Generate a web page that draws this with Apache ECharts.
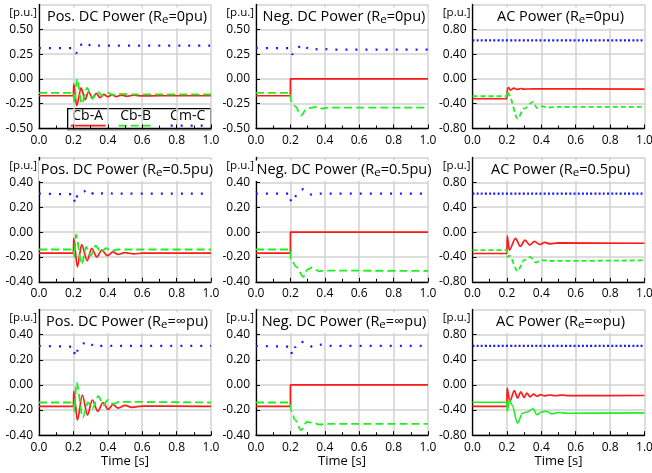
<!DOCTYPE html>
<html>
<head>
<meta charset="utf-8">
<script src="https://cdn.jsdelivr.net/npm/echarts@6/dist/echarts.min.js"></script>
<style>
  html, body { margin: 0; padding: 0; background: #fff; }
  #chart { width: 652px; height: 473px; }
</style>
</head>
<body>
<div id="chart"></div>
<script>
// Converter powers after the pole fault at t = 0.2 s, three earthing resistances.
const seriesNames = ['Cb-A', 'Cb-B', 'Cm-C'];
const powerKinds = ['Pos. DC Power', 'Neg. DC Power', 'AC Power'];
const reValues = ['0', '0.5', '∞'];
const timeTicks = { min: 0, max: 1, interval: 0.2 };
const yRangesDcTop = { min: -0.5, max: 0.75, interval: 0.25 };
const yRangesDc = { min: -0.4, max: 0.6, interval: 0.2 };
const yRangesAc = { min: -0.8, max: 1.2, interval: 0.4 };

// ---- Re = 0 pu ----
const posRe0CbA = [[0,-0.17],[0.2,-0.17],[0.202,-0.05],[0.219,-0.27],[0.245,-0.09],[0.268,-0.21],[0.288,-0.13],[0.311,-0.19],[0.333,-0.145],[0.355,-0.19],[0.377,-0.155],[0.40,-0.18],[0.425,-0.16],[0.45,-0.178],[0.48,-0.163],[0.51,-0.175],[0.55,-0.165],[0.6,-0.172],[0.7,-0.17],[1,-0.17]];
const posRe0CbB = [[0,-0.14],[0.2,-0.14],[0.205,-0.24],[0.222,0.0],[0.248,-0.25],[0.28,-0.09],[0.31,-0.2],[0.34,-0.13],[0.37,-0.17],[0.40,-0.14],[0.43,-0.16],[0.47,-0.15],[0.55,-0.157],[1,-0.155]];
const posRe0CmC = [[0,0.31],[0.2,0.31],[0.205,0.27],[0.215,0.26],[0.235,0.34],[0.255,0.35],[0.275,0.37],[0.305,0.33],[0.35,0.335],[1,0.335]];

const negRe0CbA = [[0,-0.17],[0.2,-0.17],[0.2,0],[1,0]];
const negRe0CbB = [[0,-0.14],[0.2,-0.14],[0.202,-0.22],[0.23,-0.28],[0.262,-0.37],[0.295,-0.3],[0.325,-0.29],[0.36,-0.28],[0.385,-0.3],[0.42,-0.29],[1,-0.29]];
const negRe0CmC = [[0,0.31],[0.2,0.31],[0.2,0.28],[0.21,0.25],[0.24,0.31],[0.26,0.33],[0.28,0.345],[0.3,0.31],[0.32,0.29],[0.36,0.3],[0.4,0.3],[0.45,0.295],[1,0.295]];

const acRe0CbA = [[0,-0.32],[0.2,-0.32],[0.203,-0.15],[0.21,-0.14],[0.22,-0.18],[0.24,-0.15],[0.26,-0.17],[0.28,-0.155],[0.3,-0.165],[0.35,-0.16],[1,-0.165]];
const acRe0CbB = [[0,-0.28],[0.2,-0.28],[0.203,-0.2],[0.212,-0.26],[0.262,-0.64],[0.30,-0.48],[0.352,-0.37],[0.375,-0.47],[0.40,-0.44],[0.44,-0.46],[0.5,-0.45],[1,-0.45]];
const acRe0CmC = [[0,0.62],[1,0.62]];

// ---- Re = 0.5 pu ----
const posRe05CbA = [[0,-0.17],[0.2,-0.17],[0.202,-0.05],[0.223,-0.28],[0.248,-0.1],[0.28,-0.23],[0.306,-0.13],[0.336,-0.2],[0.365,-0.145],[0.398,-0.19],[0.43,-0.16],[0.46,-0.18],[0.5,-0.165],[0.55,-0.175],[0.6,-0.17],[1,-0.17]];
const posRe05CbB = [[0,-0.14],[0.2,-0.14],[0.205,-0.2],[0.215,-0.02],[0.248,-0.26],[0.275,-0.12],[0.3,-0.19],[0.33,-0.11],[0.36,-0.16],[0.39,-0.13],[0.42,-0.15],[0.46,-0.14],[1,-0.14]];
const posRe05CmC = [[0,0.31],[0.2,0.305],[0.21,0.23],[0.225,0.3],[0.26,0.325],[0.28,0.345],[0.3,0.32],[0.325,0.3],[0.36,0.31],[0.39,0.32],[0.43,0.31],[1,0.31]];

const negRe05CbA = [[0,-0.17],[0.2,-0.17],[0.2,0],[1,0]];
const negRe05CbB = [[0,-0.14],[0.2,-0.14],[0.202,-0.22],[0.235,-0.28],[0.275,-0.36],[0.3,-0.3],[0.325,-0.285],[0.365,-0.315],[0.4,-0.31],[1,-0.313]];
const negRe05CmC = [[0,0.31],[0.2,0.31],[0.203,0.24],[0.22,0.27],[0.245,0.32],[0.275,0.345],[0.3,0.32],[0.325,0.3],[0.37,0.31],[1,0.31]];

const acRe05CbA = [[0,-0.345],[0.2,-0.345],[0.202,-0.06],[0.214,-0.29],[0.25,-0.1],[0.278,-0.23],[0.305,-0.13],[0.333,-0.21],[0.36,-0.15],[0.39,-0.2],[0.42,-0.165],[0.45,-0.19],[0.5,-0.175],[1,-0.18]];
const acRe05CbB = [[0,-0.29],[0.2,-0.29],[0.203,-0.4],[0.215,-0.38],[0.262,-0.63],[0.3,-0.45],[0.335,-0.4],[0.37,-0.49],[0.4,-0.45],[0.45,-0.465],[1,-0.455]];
const acRe05CmC = [[0,0.62],[1,0.62]];

// ---- Re = ∞ pu ----
const posReInfCbA = [[0,-0.17],[0.2,-0.17],[0.202,-0.05],[0.223,-0.28],[0.252,-0.08],[0.282,-0.24],[0.31,-0.12],[0.342,-0.21],[0.372,-0.14],[0.402,-0.195],[0.43,-0.155],[0.46,-0.185],[0.5,-0.163],[0.54,-0.178],[0.6,-0.168],[1,-0.17]];
const posReInfCbB = [[0,-0.14],[0.2,-0.14],[0.205,-0.21],[0.218,0.02],[0.255,-0.26],[0.285,-0.14],[0.31,-0.19],[0.345,-0.09],[0.375,-0.16],[0.4,-0.12],[0.43,-0.15],[0.47,-0.135],[1,-0.14]];
const posReInfCmC = [[0,0.31],[0.2,0.305],[0.203,0.28],[0.21,0.225],[0.23,0.29],[0.258,0.33],[0.283,0.345],[0.305,0.32],[0.326,0.3],[0.384,0.315],[0.43,0.31],[1,0.31]];

const negReInfCbA = [[0,-0.17],[0.2,-0.17],[0.2,0],[1,0]];
const negReInfCbB = [[0,-0.14],[0.2,-0.14],[0.202,-0.2],[0.228,-0.28],[0.262,-0.36],[0.295,-0.295],[0.33,-0.3],[0.37,-0.315],[0.42,-0.31],[1,-0.31]];
const negReInfCmC = [[0,0.31],[0.2,0.305],[0.203,0.28],[0.21,0.24],[0.228,0.3],[0.256,0.345],[0.28,0.34],[0.305,0.32],[0.33,0.3],[0.38,0.32],[0.43,0.31],[1,0.31]];

const acReInfCbA = [[0,-0.34],[0.2,-0.34],[0.201,-0.05],[0.217,-0.265],[0.243,-0.09],[0.262,-0.21],[0.281,-0.11],[0.3,-0.2],[0.316,-0.13],[0.335,-0.19],[0.355,-0.145],[0.375,-0.18],[0.395,-0.155],[0.42,-0.175],[0.45,-0.16],[0.48,-0.172],[0.52,-0.163],[0.56,-0.17],[1,-0.168]];
const acReInfCbB = [[0,-0.275],[0.2,-0.275],[0.202,-0.42],[0.215,-0.24],[0.23,-0.32],[0.262,-0.61],[0.29,-0.45],[0.32,-0.43],[0.352,-0.38],[0.375,-0.475],[0.4,-0.43],[0.43,-0.42],[0.46,-0.46],[0.5,-0.44],[0.55,-0.45],[1,-0.445]];
const acReInfCmC = [[0,0.62],[1,0.62]];

// panels[row][col] = [Cb-A, Cb-B, Cm-C]
const panels = [
  [[posRe0CbA, posRe0CbB, posRe0CmC], [negRe0CbA, negRe0CbB, negRe0CmC], [acRe0CbA, acRe0CbB, acRe0CmC]],
  [[posRe05CbA, posRe05CbB, posRe05CmC], [negRe05CbA, negRe05CbB, negRe05CmC], [acRe05CbA, acRe05CbB, acRe05CmC]],
  [[posReInfCbA, posReInfCbB, posReInfCmC], [negReInfCbA, negReInfCbB, negReInfCmC], [acReInfCbA, acReInfCbB, acReInfCmC]]
];

// ---- layout ----
const FONT = 'Open Sans';
const colLeft = [39, 256, 472.5];
const colWidth = 172;
const rowTop = [4.5, 157.5, 309.5];
const rowHeight = [124, 124.3, 125.7];

const RED = '#ff1a1a', GREEN = '#1ef01e', BLUE = '#1a1aff';

function lineStyleFor(k, col, row) {
  if (k === 0) return { color: RED, width: 1.7 };
  if (k === 1) {
    if (col === 2 && row === 2) return { color: GREEN, width: 1.6 };
    return { color: GREEN, width: 1.8, type: col === 2 ? [5, 3] : [8, 4] };
  }
  return { color: BLUE, width: 2.2, type: col === 2 ? [2, 2.2] : [2, 8] };
}

const grids = [], xAxes = [], yAxes = [], series = [], titles = [];
for (let r = 0; r < 3; r++) {
  for (let c = 0; c < 3; c++) {
    const idx = r * 3 + c;
    const yr = c === 2 ? yRangesAc : (r === 0 ? yRangesDcTop : yRangesDc);
    grids.push({ left: colLeft[c], top: rowTop[r], width: colWidth, height: rowHeight[r],
      containLabel: false, outerBoundsMode: 'none' });
    xAxes.push({
      type: 'value', gridIndex: idx, min: timeTicks.min, max: timeTicks.max, interval: timeTicks.interval,
      name: r === 2 ? 'Time [s]' : '', nameLocation: 'middle', nameGap: 20,
      nameTextStyle: { fontFamily: FONT, fontSize: 13, color: '#000' },
      axisLine: { onZero: false, lineStyle: { color: '#000', width: 1.3 } },
      axisTick: { show: true, inside: true, length: 4, lineStyle: { color: '#000', width: 1 } },
      minorTick: { show: true, splitNumber: 2, length: 3, lineStyle: { color: '#000', width: 1 } },
      splitLine: { show: true, lineStyle: { color: '#d2d2d2', width: 1.5 } },
      axisLabel: { fontFamily: FONT, fontSize: 12, color: '#000', margin: 6,
        formatter: v => v.toFixed(1) }
    });
    yAxes.push({
      type: 'value', gridIndex: idx, min: yr.min, max: yr.max, interval: yr.interval,
      name: '[p.u.]', nameLocation: 'end', nameGap: -8.5,
      nameTextStyle: { fontFamily: FONT, fontSize: 11.5, color: '#000', align: 'right',
        verticalAlign: 'middle', padding: [0, 2, 0, 0] },
      axisLine: { onZero: false, lineStyle: { color: '#000', width: 1.3 } },
      axisTick: { show: true, inside: true, length: 4, lineStyle: { color: '#000', width: 1 } },
      splitLine: { show: true, lineStyle: { color: '#d2d2d2', width: 1.5 } },
      axisLabel: { fontFamily: FONT, fontSize: 12, color: '#000', margin: 6, showMaxLabel: false,
        formatter: v => v.toFixed(2) }
    });
    titles.push({
      text: '{t|' + powerKinds[c] + ' (R}{s|e}{t|=' + reValues[r] + 'pu)}',
      left: colLeft[c] + colWidth / 2, top: rowTop[r] + 1.5, textAlign: 'center',
      backgroundColor: '#fff', padding: [2, 2, 2, 2],
      textStyle: { fontWeight: 'normal', rich: {
        t: { fontFamily: FONT, fontSize: 14.5, fontWeight: 'normal', color: '#000', lineHeight: 18 },
        s: { fontFamily: FONT, fontSize: 11.5, fontWeight: 'normal', color: '#000', lineHeight: 10, verticalAlign: 'bottom' }
      } }
    });
    panels[r][c].forEach((data, k) => {
      const isStep = k === 0 && c === 1;
      series.push({
        type: 'line', name: seriesNames[k], xAxisIndex: idx, yAxisIndex: idx, data,
        symbol: 'none', showSymbol: false, animation: false,
        smooth: isStep ? false : 0.3, smoothMonotone: 'x',
        lineStyle: lineStyleFor(k, c, r), z: 2 + k
      });
    });
  }
}

// key box inside the first panel
const keyItems = seriesNames.map((name, k) => {
  const ls = lineStyleFor(k, 0, 0);
  const x0 = [3, 51, 103][k];
  return [
    { type: 'text', x: x0 + 17, y: 7.5, style: { text: name, font: '14px ' + FONT, fill: '#000',
      align: 'center', verticalAlign: 'middle' } },
    { type: 'line', shape: { x1: x0, y1: 17, x2: x0 + 35, y2: 17 },
      style: { stroke: ls.color, lineWidth: ls.width, lineDash: Array.isArray(ls.type) ? ls.type : null } }
  ];
}).flat();

const chart = echarts.init(document.getElementById('chart'), null, { renderer: 'canvas' });
chart.setOption({
  backgroundColor: '#fff',
  animation: false,
  title: titles,
  grid: grids,
  xAxis: xAxes,
  yAxis: yAxes,
  series,
  graphic: [{
    type: 'group', left: 67, top: 108, z: 100,
    children: [
      { type: 'rect', shape: { x: 0, y: 0, width: 143, height: 21 },
        style: { fill: '#fff', stroke: '#000', lineWidth: 1.3 } },
      ...keyItems
    ]
  }]
});
</script>
</body>
</html>
